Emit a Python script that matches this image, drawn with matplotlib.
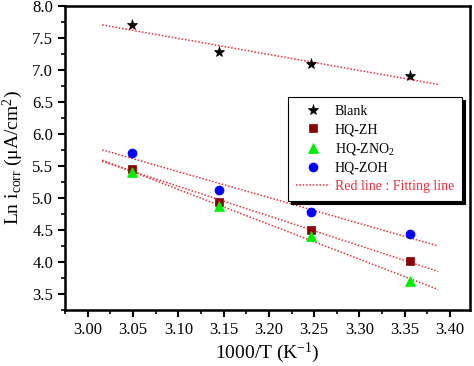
import numpy as np
import matplotlib
matplotlib.use("Agg")
import matplotlib.pyplot as plt
from matplotlib.ticker import MultipleLocator
from matplotlib.lines import Line2D

plt.rcParams['font.family'] = ['Liberation Serif', 'DejaVu Serif']
plt.rcParams['mathtext.fontset'] = 'custom'
plt.rcParams['mathtext.rm'] = 'Liberation Serif'
plt.rcParams['mathtext.it'] = 'Liberation Serif'

inv_T = [3.049, 3.145, 3.247, 3.356]
blank = [7.70, 7.28, 7.10, 6.90]
hq_zh = [5.45, 4.93, 4.50, 4.01]
hq_zno2 = [5.40, 4.87, 4.40, 3.70]
hq_zoh = [5.70, 5.13, 4.78, 4.43]
fit_range = [3.016, 3.387]

fig = plt.figure(figsize=(4.74, 3.66), dpi=100)
ax = fig.add_axes([65/474, 1-310/366, (470-65)/474, (310-6)/366])

x = np.array(inv_T)
xf = np.array(fit_range)
series = [
    ("Blank", blank, dict(marker='*', color='black', markersize=8)),
    ("HQ-ZH", hq_zh, dict(marker='s', color='#8b0000', markersize=5.5)),
    ("HQ-ZNO$_2$", hq_zno2, dict(marker='^', color='#00ee00', markersize=7)),
    ("HQ-ZOH", hq_zoh, dict(marker='o', color='#0000ff', markersize=6.5)),
]
handles = []
for name, ys, st in series:
    p = np.polyfit(x, ys, 1)
    ax.plot(xf, np.polyval(p, xf), ls=(0, (1, 1.2)), color='#e8303a', lw=1.1, zorder=1)
    h, = ax.plot(x, ys, ls='none', markeredgewidth=0.5, zorder=3, label=name, **st)
    handles.append(h)

fit_handle = Line2D([], [], ls=(0, (1, 1.2)), color='#e8303a', lw=1.1)
handles.append(fit_handle)
labels = [s[0] for s in series] + ["Red line : Fitting line"]

ax.set_xlim(2.975, 3.422)
ax.set_ylim(3.25, 8.0)
ax.xaxis.set_major_locator(MultipleLocator(0.05))
ax.xaxis.set_minor_locator(MultipleLocator(0.025))
ax.yaxis.set_major_locator(MultipleLocator(0.5))
ax.yaxis.set_minor_locator(MultipleLocator(0.25))
ax.xaxis.set_major_formatter(matplotlib.ticker.FormatStrFormatter('%.2f'))
ax.yaxis.set_major_formatter(matplotlib.ticker.FormatStrFormatter('%.1f'))
ax.tick_params(which='major', direction='out', length=5, width=1.5, labelsize=12, colors='black')
ax.tick_params(which='minor', direction='out', length=3, width=1.2)
ax.tick_params(top=False, right=False)
for s in ax.spines.values():
    s.set_linewidth(1.8)

ax.set_xlabel("1000/T (K$^{-1}$)", fontsize=14, labelpad=2)
ax.set_ylabel("Ln i$_{\\mathrm{corr}}$ (μA/cm$^2$)", fontsize=14, labelpad=5)

leg = ax.legend(handles, labels, loc='upper left', bbox_to_anchor=((288-65)/405, 1-(97-6)/304),
                fontsize=10, frameon=True, fancybox=False, shadow={'color': 'black', 'alpha': 1},
                edgecolor='black', borderpad=0.6, labelspacing=0.35, handlelength=2.4,
                handletextpad=0.35, borderaxespad=0)
leg.get_frame().set_linewidth(0.8)
leg.get_texts()[-1].set_color('#e8303a')

fig.savefig("out.png", dpi=100)
